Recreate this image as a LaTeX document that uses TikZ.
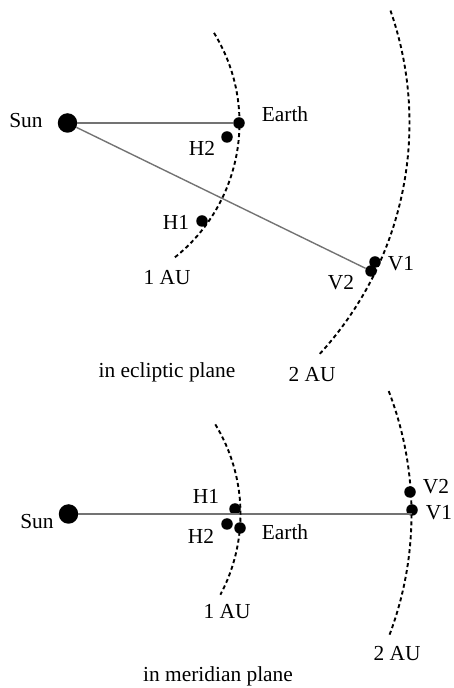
\documentclass[tikz,border=0pt]{standalone}
\usepackage{fontspec}
\setmainfont{Liberation Serif}
\begin{document}
\begin{tikzpicture}[x=1pt,y=1pt,
  sunball/.style={circle,fill=black,minimum size=19.5pt,inner sep=0pt},
  dotball/.style={circle,fill=black,minimum size=11.5pt,inner sep=0pt},
  lbl/.style={inner sep=0pt,font=\fontsize{21.4}{22}\selectfont,text height=14.5pt,text depth=0pt},
  captxt/.style={inner sep=0pt,font=\fontsize{21.4}{22}\selectfont,anchor=base},
  ray/.style={draw=black!55,line width=1.4pt},
  orbit/.style={draw=black,line width=1.9pt,dash pattern=on 4pt off 3pt}]
\useasboundingbox (0,0) rectangle (454,688);
% ---------- top panel: ecliptic plane ----------
\node[sunball] (sun1) at (67.5,565) {};
\node[dotball] (earth1) at (239,565) {};
\node[dotball] (h21) at (227,551) {};
\node[dotball] (h11) at (202,467) {};
\node[dotball] (v11) at (375,426) {};
\node[dotball] (v21) at (371,417) {};
\draw[ray] (sun1) -- (earth1);
\draw[ray] (sun1) -- (v21);
\draw[orbit] (sun1) ++(31.6:172) arc[start angle=31.6,end angle=-51.7,radius=172];
\draw[orbit] (sun1) ++(19.2:342) arc[start angle=19.2,end angle=-42.9,radius=342];
\node[lbl] (tsun1) at (26,568) {Sun};
\node[lbl] (tearth1) at (285,574) {Earth};
\node[lbl] (th21) at (202,540) {H2};
\node[lbl] (th11) at (176,466) {H1};
\node[lbl] (tau11) at (167,411) {1 AU};
\node[lbl] (tv11) at (401,425) {V1};
\node[lbl] (tv21) at (341,406) {V2};
\node[lbl] (tau21) at (312,314) {2 AU};
\node[captxt] (tecl) at (167,310) {in ecliptic plane};
% ---------- bottom panel: meridian plane ----------
\node[sunball] (sun2) at (68.5,174) {};
\node[dotball] (h12) at (235,179) {};
\node[dotball] (h22) at (227,164) {};
\node[dotball] (earth2) at (240,160) {};
\node[dotball] (v22) at (410,196) {};
\node[dotball] (v12) at (412,178) {};
\coordinate (lineend) at (412,174);
\draw[ray] (sun2) -- (lineend);
\draw[orbit] (sun2) ++(31.4:172) arc[start angle=31.4,end angle=-28,radius=172];
\draw[orbit] (sun2) ++(21:343) arc[start angle=21,end angle=-21,radius=343];
\node[lbl] (tsun2) at (37,167) {Sun};
\node[lbl] (th12) at (206,192) {H1};
\node[lbl] (th22) at (201,152) {H2};
\node[lbl] (tearth2) at (285,156) {Earth};
\node[lbl] (tv22) at (436,202) {V2};
\node[lbl] (tv12) at (439,176) {V1};
\node[lbl] (tau12) at (227,77) {1 AU};
\node[lbl] (tau22) at (397,35) {2 AU};
\node[captxt] (tmer) at (218,6) {in meridian plane};
\end{tikzpicture}
\end{document}
